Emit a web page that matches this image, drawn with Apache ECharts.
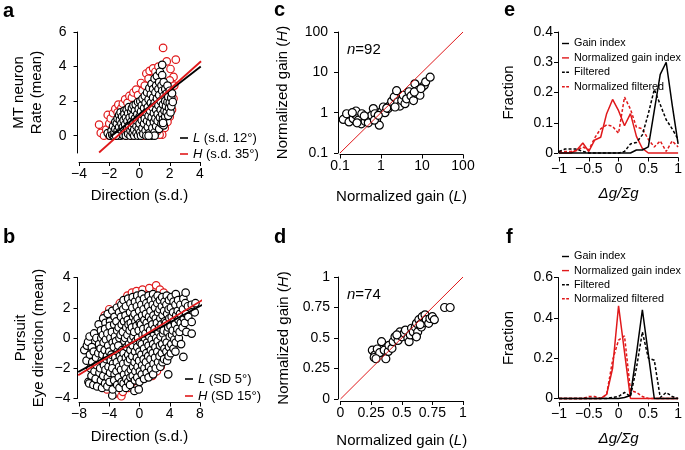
<!DOCTYPE html>
<html><head><meta charset="utf-8">
<script src="https://cdn.jsdelivr.net/npm/echarts@6/dist/echarts.min.js"></script>
<style>html,body{margin:0;padding:0;background:#fff}#c{width:685px;height:450px}</style>
</head><body><div id="c"></div>
<script>
const FONT = "'Liberation Sans', Arial, Helvetica, sans-serif";

// ---------- Panel a: MT neuron rate vs direction ----------
const aBlack = [[-2.1,0.15],[-1.95,0.0],[-1.85,0.3],[-1.8,0.05],[-1.75,0.55],[-1.7,0.0],[-1.65,0.2],[-1.6,0.8],[-1.6,0.4],[-1.5,0.0],[-1.5,0.7],[-1.45,1.0],[-1.45,0.3],[-1.4,0.1],[-1.35,0.5],[-1.35,1.2],[-1.3,0.9],[-1.25,1.35],[-1.25,0.0],[-1.2,0.3],[-1.2,0.7],[-1.15,1.1],[-1.1,0.5],[-1.1,0.05],[-1.05,0.9],[-1.0,1.45],[-1.0,1.25],[-0.95,0.2],[-0.95,0.65],[-0.9,1.05],[-0.9,0.0],[-0.85,1.5],[-0.8,0.4],[-0.8,0.85],[-0.75,1.3],[-0.75,0.1],[-0.7,0.6],[-0.7,1.65],[-0.65,1.05],[-0.6,0.0],[-0.6,0.3],[-0.55,0.8],[-0.55,1.4],[-0.5,1.6],[-0.5,0.5],[-0.45,0.15],[-0.45,1.15],[-0.4,0.7],[-0.4,1.75],[-0.35,0.0],[-0.35,0.35],[-0.3,1.0],[-0.3,1.45],[-0.25,1.8],[-0.2,0.55],[-0.2,0.15],[-0.15,1.25],[-0.15,0.85],[-0.1,1.95],[-0.1,0.0],[-0.05,0.4],[-0.05,1.55],[0.0,0.7],[0.0,1.1],[0.05,2.0],[0.05,0.2],[0.1,0.0],[0.1,1.4],[0.15,0.9],[0.15,1.75],[0.2,0.45],[0.2,2.15],[0.25,1.2],[0.25,0.1],[0.3,1.6],[0.3,0.7],[0.35,2.3],[0.35,1.0],[0.4,0.3],[0.4,1.9],[0.45,0.0],[0.45,1.35],[0.5,2.5],[0.5,0.85],[0.55,1.65],[0.55,0.5],[0.6,2.1],[0.6,1.15],[0.65,0.15],[0.65,2.75],[0.7,1.45],[0.7,0.75],[0.75,1.9],[0.75,2.4],[0.8,0.0],[0.8,1.05],[0.8,3.0],[0.85,0.45],[0.85,1.65],[0.9,2.2],[0.9,2.7],[0.95,1.3],[0.95,0.8],[1.0,3.3],[1.0,0.2],[1.0,1.9],[1.05,2.5],[1.05,1.0],[1.1,0.55],[1.1,2.9],[1.1,1.5],[1.15,3.45],[1.15,2.15],[1.2,0.85],[1.2,1.25],[1.25,2.7],[1.25,1.75],[1.3,3.1],[1.3,0.4],[1.3,2.35],[1.35,3.7],[1.35,1.05],[1.4,1.5],[1.4,2.0],[1.45,2.9],[1.45,0.7],[1.5,3.5],[1.5,4.1],[1.5,2.6],[1.5,1.25],[1.55,1.8],[1.55,0.95],[1.6,2.3],[1.6,3.1],[1.6,0.6],[1.65,1.45],[1.7,2.7],[1.7,2.0],[1.7,1.1],[1.75,1.7],[1.8,2.45],[1.8,1.35],[1.85,2.9],[1.85,1.95],[1.9,1.15],[1.9,2.25],[1.95,1.6],[2.0,2.6],[2.0,1.9],[2.05,1.35],[2.1,2.2],[2.1,1.7],[2.15,2.45],[2.2,1.95],[1.56,0.74],[1.0,0.0],[0.6,0.0],[-1.55,0.0]];
const aRed = [[-2.67,0.64],[-2.56,0.16],[-2.35,0.0],[-2.2,0.35],[-2.1,1.2],[-2.0,0.7],[-1.9,1.0],[-1.75,1.3],[-1.6,1.55],[-1.45,1.35],[-1.4,1.8],[-1.2,1.6],[-1.1,1.85],[-0.95,2.1],[-0.8,1.9],[-0.67,2.3],[-0.5,2.2],[-0.4,2.5],[-0.22,2.67],[-0.1,2.35],[0.1,3.05],[0.2,2.6],[0.35,2.9],[0.45,3.6],[0.6,3.3],[0.67,3.75],[0.9,3.9],[1.05,3.7],[1.25,4.0],[1.56,5.08],[1.8,4.3],[2.05,3.86],[2.4,4.4],[2.25,3.4],[2.0,3.2],[1.95,2.85],[2.3,2.9],[2.25,2.15],[2.15,1.5],[2.0,1.1],[1.85,0.8],[1.67,0.45],[1.5,0.06],[1.33,0.06],[1.15,0.25],[0.95,0.05],[0.78,0.06],[0.55,0.0],[0.25,0.0],[-0.1,0.05],[-0.5,0.0],[-0.9,0.0],[-1.3,0.05],[-1.7,0.0],[-2.0,0.0],[-0.2,1.6],[0.6,1.8],[1.2,2.6]];
const aFitL = [[-1.9,-0.05],[4.05,4.0]];
const aFitH = [[-2.67,-0.97],[4.07,4.31]];

// ---------- Panel b: pursuit eye direction vs direction ----------
const bBlack = [[-7.3,-0.8],[-7.0,-1.5],[-6.95,-0.5],[-6.8,-0.25],[-6.75,-2.9],[-6.6,0.1],[-6.55,-1.1],[-6.65,-3.0],[-6.5,-2.0],[-6.3,-0.6],[-6.25,-1.6],[-6.35,-2.5],[-6.0,0.3],[-6.05,-0.9],[-5.95,-2.2],[-6.1,-3.1],[-5.7,0.0],[-5.75,-1.3],[-5.65,-1.8],[-5.8,-2.7],[-5.6,-3.2],[-5.4,0.9],[-5.35,-0.4],[-5.45,-1.0],[-5.3,-2.3],[-5.1,0.5],[-5.05,0.0],[-5.15,-0.7],[-5.0,-1.5],[-5.2,-2.0],[-5.1,-2.8],[-4.95,-3.3],[-4.8,1.3],[-4.85,0.2],[-4.75,-0.3],[-4.9,-1.1],[-4.7,-1.8],[-4.8,-2.5],[-4.5,1.0],[-4.55,0.6],[-4.45,-0.1],[-4.6,-0.8],[-4.4,-1.4],[-4.5,-2.1],[-4.55,-3.0],[-4.2,1.6],[-4.25,0.3],[-4.15,-0.5],[-4.3,-1.2],[-4.1,-1.9],[-4.2,-2.6],[-4.25,-3.2],[-3.9,1.1],[-3.95,0.8],[-3.85,0.0],[-4.0,-0.9],[-3.8,-1.5],[-3.9,-2.3],[-3.95,-2.9],[-3.6,1.8],[-3.65,0.4],[-3.55,-0.3],[-3.7,-1.1],[-3.5,-1.7],[-3.6,-2.0],[-3.6,-3.8],[-3.55,-3.4],[-3.3,1.4],[-3.35,0.9],[-3.25,0.1],[-3.4,-0.6],[-3.2,-1.3],[-3.3,-2.4],[-3.35,-2.8],[-3.0,2.0],[-3.05,1.1],[-2.95,0.5],[-3.1,-0.2],[-2.9,-0.9],[-3.0,-1.6],[-3.05,-2.2],[-2.95,-3.1],[-2.7,1.7],[-2.75,0.7],[-2.65,0.0],[-2.8,-0.5],[-2.6,-1.2],[-2.7,-1.9],[-2.75,-2.6],[-2.65,-3.3],[-2.4,2.2],[-2.45,1.4],[-2.35,0.9],[-2.5,0.2],[-2.3,-0.8],[-2.4,-1.4],[-2.45,-2.1],[-2.35,-2.9],[-2.1,2.5],[-2.15,1.9],[-2.05,1.1],[-2.2,0.4],[-2.0,-0.2],[-2.1,-1.0],[-2.15,-1.7],[-2.05,-2.4],[-2.1,-3.0],[-1.8,2.1],[-1.85,1.5],[-1.75,0.7],[-1.9,0.0],[-1.7,-0.6],[-1.8,-1.3],[-1.85,-2.0],[-1.75,-2.7],[-1.8,-3.3],[-1.5,2.6],[-1.55,1.2],[-1.45,0.9],[-1.6,0.2],[-1.4,-0.4],[-1.5,-1.1],[-1.55,-1.6],[-1.45,-2.3],[-1.5,-2.9],[-1.2,2.3],[-1.25,1.7],[-1.15,1.0],[-1.3,0.5],[-1.1,-0.1],[-1.2,-0.8],[-1.25,-1.4],[-1.15,-2.1],[-1.2,-2.6],[-1.25,-3.1],[-0.9,2.7],[-0.95,2.0],[-0.85,1.4],[-1.0,0.7],[-0.8,0.1],[-0.9,-0.5],[-0.95,-1.2],[-0.85,-1.9],[-0.9,-2.5],[-0.6,2.4],[-0.65,1.6],[-0.55,1.1],[-0.7,0.4],[-0.5,-0.2],[-0.6,-0.9],[-0.65,-1.6],[-0.55,-2.2],[-0.6,-2.8],[-0.67,-3.5],[-0.3,2.8],[-0.35,2.1],[-0.25,1.3],[-0.4,0.8],[-0.2,0.0],[-0.3,-0.6],[-0.35,-1.3],[-0.25,-1.9],[-0.3,-2.6],[0.0,2.5],[-0.05,1.8],[0.05,1.0],[-0.1,0.5],[0.1,-0.3],[0.0,-0.9],[-0.05,-1.5],[0.05,-2.2],[0.0,-2.9],[-0.1,-3.4],[0.3,2.9],[0.25,2.2],[0.35,1.5],[0.2,0.9],[0.4,0.2],[0.3,-0.4],[0.25,-1.1],[0.35,-1.8],[0.3,-2.4],[0.6,2.6],[0.55,1.9],[0.65,1.2],[0.5,0.6],[0.7,0.0],[0.6,-0.7],[0.55,-1.4],[0.65,-2.0],[0.6,-2.7],[0.9,2.3],[0.85,1.6],[0.95,1.0],[0.8,0.3],[1.0,-0.3],[0.9,-1.0],[0.85,-1.6],[0.95,-2.3],[1.2,2.8],[1.15,2.1],[1.25,1.4],[1.1,0.7],[1.3,0.1],[1.2,-0.5],[1.15,-1.2],[1.25,-1.9],[1.2,-2.6],[1.5,2.5],[1.45,1.8],[1.55,1.2],[1.4,0.5],[1.6,-0.1],[1.5,-0.8],[1.45,-1.4],[1.55,-2.1],[1.8,2.9],[1.75,2.2],[1.85,1.5],[1.7,0.9],[1.9,0.3],[1.8,-0.4],[1.75,-1.0],[1.85,-1.7],[1.8,-2.4],[2.1,2.6],[2.05,2.0],[2.15,1.3],[2.0,0.6],[2.2,0.0],[2.1,-0.6],[2.05,-1.3],[2.15,-2.0],[2.4,2.8],[2.35,2.3],[2.45,1.7],[2.3,1.0],[2.5,0.4],[2.4,-0.2],[2.35,-0.9],[2.45,-1.6],[2.7,2.5],[2.65,1.9],[2.75,1.3],[2.6,0.7],[2.8,0.1],[2.7,-0.5],[2.65,-1.2],[2.75,-1.9],[3.0,2.7],[2.95,2.1],[3.05,1.5],[2.9,0.9],[3.1,0.3],[3.0,-0.4],[2.95,-1.0],[3.05,-1.6],[3.3,2.4],[3.25,1.8],[3.35,1.1],[3.2,0.5],[3.4,-0.1],[3.3,-0.7],[3.25,-1.4],[3.6,2.8],[3.55,2.2],[3.65,1.6],[3.5,1.0],[3.7,0.4],[3.6,-0.3],[3.55,-0.9],[3.65,-1.5],[3.8,-2.4],[3.9,2.5],[3.85,1.9],[3.95,1.3],[3.8,0.7],[4.0,0.1],[3.9,-0.6],[3.85,-1.2],[4.2,2.7],[4.15,2.0],[4.25,1.4],[4.1,0.8],[4.3,0.2],[4.2,-0.4],[4.15,-1.0],[4.5,2.4],[4.45,1.7],[4.55,1.1],[4.4,0.5],[4.6,-0.1],[4.5,-0.7],[4.8,2.9],[4.75,2.2],[4.85,1.5],[4.7,0.9],[4.9,0.3],[4.8,-0.3],[4.75,-0.9],[5.1,2.5],[5.05,1.8],[5.15,1.2],[5.0,0.6],[5.2,0.0],[5.4,2.2],[5.35,1.6],[5.45,1.0],[5.3,0.4],[5.5,-0.4],[5.8,2.6],[5.75,1.9],[5.85,1.3],[5.7,0.7],[5.8,-1.25],[6.1,3.0],[6.05,2.3],[6.15,1.6],[6.0,1.0],[6.2,0.4],[6.4,2.1],[6.45,1.4],[6.9,2.2],[6.9,1.06],[6.9,0.29],[7.4,2.3],[7.3,1.7]];
const bRed = [[-4.6,1.5],[-4.0,1.9],[-3.1,1.87],[-2.6,2.3],[-2.0,2.4],[-1.6,2.8],[-1.0,3.0],[-0.4,3.1],[0.4,3.2],[1.3,3.3],[2.2,3.48],[2.7,3.2],[3.2,3.0],[-4.3,-3.4],[-3.3,-3.7],[-2.9,-3.6],[-2.6,-3.3],[-2.4,-3.85],[-2.2,-3.56],[-1.5,-3.3],[-0.9,-2.9],[-0.2,-2.7],[0.5,-2.6],[1.1,-2.5],[1.7,-2.5],[2.3,-2.2],[2.8,-1.9]];
const bFitL = [[-8.1,-2.24],[8.6,2.27]];
const bFitH = [[-8.1,-2.46],[8.6,2.6]];

// ---------- Panel c: normalized gain, log axes ----------
const cPts = [[0.12,0.68],[0.145,0.94],[0.166,0.59],[0.21,0.71],[0.24,0.89],[0.245,1.1],[0.28,0.65],[0.34,0.94],[0.33,0.53],[0.41,0.61],[0.45,0.78],[0.49,0.56],[0.59,0.86],[0.65,1.26],[0.71,0.94],[0.78,0.68],[0.91,0.49],[1.04,1.08],[1.14,1.38],[1.25,1.0],[1.5,1.26],[1.66,1.52],[1.82,1.91],[2.1,2.45],[2.4,3.5],[2.55,1.84],[2.9,1.46],[3.2,2.0],[3.5,2.7],[3.85,1.67],[4.2,2.2],[4.8,3.3],[5.4,2.6],[6.2,2.0],[6.7,5.2],[7.4,3.0],[8.1,3.6],[8.9,2.7],[10.1,4.3],[11.4,4.8],[12.3,5.8],[15.8,7.6],[0.39,0.83],[0.26,0.56],[0.2,1.0],[0.69,0.65],[0.86,0.86],[1.38,1.3],[2.2,1.38],[6.5,3.25],[9.4,3.95]];
const cDiag = [[0.1,0.1],[100,100]];

// ---------- Panel d: normalized gain, linear axes ----------
const dPts = [[0.26,0.40],[0.28,0.36],[0.275,0.34],[0.30,0.41],[0.32,0.38],[0.335,0.47],[0.357,0.40],[0.37,0.33],[0.39,0.39],[0.395,0.44],[0.42,0.415],[0.43,0.47],[0.445,0.51],[0.47,0.48],[0.485,0.55],[0.50,0.51],[0.52,0.54],[0.53,0.565],[0.55,0.50],[0.56,0.47],[0.57,0.525],[0.58,0.58],[0.594,0.55],[0.61,0.59],[0.62,0.62],[0.63,0.55],[0.64,0.65],[0.66,0.59],[0.667,0.675],[0.68,0.625],[0.69,0.69],[0.70,0.65],[0.72,0.62],[0.73,0.66],[0.75,0.675],[0.766,0.65],[0.85,0.75],[0.895,0.75],[0.29,0.33],[0.46,0.525],[0.62,0.51],[0.65,0.61]];
const dDiag = [[0,0],[1,1]];

// ---------- Panels e, f: histograms of gain index ----------
const bins = [-1,-0.9,-0.8,-0.7,-0.6,-0.5,-0.4,-0.3,-0.2,-0.1,0,0.1,0.2,0.3,0.4,0.5,0.6,0.7,0.8,0.9,1];
const eGain     = [0,0,0,0,0,0,0,0,0,0,0,0,0,0.01,0.01,0.02,0.14,0.26,0.30,0.16,0.03];
const eNormGain = [0,0,0,0.01,0.033,0.005,0.043,0.052,0.13,0.177,0.14,0.09,0.13,0.055,0.015,0,0,0,0,0,0];
const eFilt     = [0.005,0.013,0.013,0.013,0.005,0,0,0,0,0,0,0.005,0.03,0.035,0.06,0.13,0.21,0.16,0.11,0.08,0.045];
const eNormFilt = [0.005,0.005,0.005,0.008,0.02,0.01,0.05,0.08,0.093,0.088,0.065,0.185,0.145,0.085,0.08,0.045,0.02,0.04,0.005,0.04,0.02];
const fGain     = [0,0,0,0,0,0,0,0,0,0,0,0.005,0.015,0.22,0.44,0.22,0,0,0,0,0];
const fNormGain = [0,0,0,0,0,0,0,0,0.02,0.15,0.46,0.23,0,0,0,0,0,0,0,0,0];
const fFilt     = [0,0,0,0,0,0,0,0,0,0.005,0.01,0.03,0.01,0.15,0.33,0.2,0.19,0.005,0.03,0.01,0];
const fNormFilt = [0,0,0,0,0,0.01,0.01,0,0.02,0.19,0.29,0.31,0.04,0.03,0.01,0,0,0,0,0,0];

const LEG = {
  La: '{i|L} (s.d. 12°)', Ha: '{i|H} (s.d. 35°)',
  Lb: '{i|L} (SD 5°)', Hb: '{i|H} (SD 15°)'
};
const pair = (xs, ys) => xs.map((x, i) => [x, ys[i]]);
const minus = v => String(v).replace('-', '\u2212');

function axis(gi, extra) {
  const base = {
    gridIndex: gi, type: 'value',
    axisLine: { show: true, onZero: false, lineStyle: { color: '#000', width: 1 } },
    axisTick: { show: true, length: 4, lineStyle: { color: '#000', width: 1 } },
    axisLabel: { color: '#000', fontSize: 14, fontFamily: FONT, margin: 5, formatter: minus, showMinLabel: true, showMaxLabel: true },
    splitLine: { show: false },
    nameLocation: 'middle',
    nameTextStyle: { fontSize: 15, fontFamily: FONT, color: '#000', rich: { i: { fontStyle: 'italic', fontSize: 15, fontFamily: FONT, color: '#000' } } }
  };
  const out = Object.assign({}, base, extra);
  if (extra.axisLabel) out.axisLabel = Object.assign({}, base.axisLabel, extra.axisLabel);
  if (extra.axisTick) out.axisTick = Object.assign({}, base.axisTick, extra.axisTick);
  if (extra.nameTextStyle) out.nameTextStyle = Object.assign({}, base.nameTextStyle, extra.nameTextStyle);
  return out;
}
const logFmt = v => (v < 1 ? v.toFixed(1) : String(Math.round(v)));

function scatter(name, data, gi, color, size) {
  return { name, type: 'scatter', xAxisIndex: gi, yAxisIndex: gi, data, symbol: 'circle', symbolSize: size,
    itemStyle: { color: '#fff', borderColor: color, borderWidth: 1.2, opacity: 1 }, silent: true, animation: false };
}
function line(name, data, gi, color, width, dash) {
  return { name, type: 'line', xAxisIndex: gi, yAxisIndex: gi, data, symbol: 'none', showSymbol: false, clip: false,
    lineStyle: { color, width, type: dash ? [3, 2] : 'solid' }, itemStyle: { color }, silent: true, animation: false };
}
const letter = (t, left, top) => ({ text: t, left, top, padding: 0,
  textStyle: { fontSize: 20, fontWeight: 'bold', fontFamily: FONT, color: '#000' } });
const nLabel = (t, left, top) => ({ text: t, left, top, padding: 0,
  textStyle: { fontSize: 15, fontWeight: 'normal', fontFamily: FONT, color: '#000',
    rich: { i: { fontStyle: 'italic', fontSize: 15, fontFamily: FONT, color: '#000' } } } });
const legendTS = (fs, lh) => ({ fontSize: fs, fontFamily: FONT, color: '#000', lineHeight: lh,
  rich: { i: { fontStyle: 'italic', fontSize: fs, fontFamily: FONT, color: '#000', lineHeight: lh } } });

const SOLID = 'path://M0,0h10v2h-10z';
const DASHED = 'path://M0,0h4v2h-4z M6,0h4v2h-4z';
const histLegendData = [
  { name: 'Gain index', icon: SOLID },
  { name: 'Normalized gain index', icon: SOLID },
  { name: 'Filtered', icon: DASHED },
  { name: 'Normalized filtered', icon: DASHED }
];

const option = {
  backgroundColor: '#fff',
  animation: false,
  title: [
    letter('a', 3, 1), letter('b', 3, 227), letter('c', 274, 0), letter('d', 274, 227), letter('e', 504, 0), letter('f', 506, 227),
    nLabel('{i|n}=92', 347, 42), nLabel('{i|n}=74', 347, 287)
  ],
  grid: [
    { left: 79, top: 32, width: 121, height: 121 },
    { left: 79, top: 277.5, width: 121, height: 121 },
    { left: 340, top: 32, width: 123, height: 121 },
    { left: 340.5, top: 277, width: 122.5, height: 122 },
    { left: 559, top: 32, width: 121, height: 121 },
    { left: 559, top: 277.5, width: 121, height: 121 }
  ],
  xAxis: [
    axis(0, { min: -4, max: 4, interval: 2, offset: 9, name: 'Direction (s.d.)', nameGap: 26 }),
    axis(1, { min: -8, max: 8, interval: 4, offset: 4, name: 'Direction (s.d.)', nameGap: 27 }),
    axis(2, { type: 'log', logBase: 10, min: 0.1, max: 100, offset: 1.5, name: 'Normalized gain ({i|L})', nameGap: 35, axisLabel: { formatter: logFmt } }),
    axis(3, { min: 0, max: 1, interval: 0.25, offset: 2, name: 'Normalized gain ({i|L})', nameGap: 32 }),
    axis(4, { min: -1, max: 1, interval: 0.5, offset: 4.5, name: 'Δg/Σg', nameGap: 29, nameTextStyle: { fontStyle: 'italic' } }),
    axis(5, { min: -1, max: 1, interval: 0.5, offset: 4, name: 'Δg/Σg', nameGap: 29, nameTextStyle: { fontStyle: 'italic' } })
  ],
  yAxis: [
    axis(0, { min: -1, max: 6, offset: 1.5, axisLabel: { customValues: [0, 2, 4, 6], margin: 11 }, axisTick: { customValues: [0, 2, 4, 6] },
      name: 'MT neuron\nRate (mean)', nameGap: 32, nameTextStyle: { lineHeight: 18 } }),
    axis(1, { min: -4, max: 4, interval: 2, offset: 1.5, axisLabel: { margin: 7 },
      name: 'Pursuit\nEye direction (mean)', nameGap: 30, nameTextStyle: { lineHeight: 18 } }),
    axis(2, { type: 'log', logBase: 10, min: 0.1, max: 100, offset: 2, axisLabel: { formatter: logFmt, margin: 10 },
      name: 'Normalized gain ({i|H})', nameGap: 48 }),
    axis(3, { min: 0, max: 1, interval: 0.25, offset: 2.5, axisLabel: { margin: 8 },
      name: 'Normalized gain ({i|H})', nameGap: 47 }),
    axis(4, { min: 0, max: 0.4, interval: 0.1, offset: 1, axisLabel: { margin: 5 }, name: 'Fraction', nameGap: 42 }),
    axis(5, { min: 0, max: 0.6, interval: 0.2, offset: 1, axisLabel: { margin: 5 }, name: 'Fraction', nameGap: 42 })
  ],
  legend: [
    { data: [{ name: 'La', icon: SOLID }, { name: 'Ha', icon: SOLID }], orient: 'vertical', left: 175, top: 126, itemWidth: 8, itemHeight: 2, itemGap: 2,
      selectedMode: false, formatter: n => LEG[n], textStyle: legendTS(13, 14), itemStyle: { borderWidth: 0 } },
    { data: [{ name: 'Lb', icon: SOLID }, { name: 'Hb', icon: SOLID }], orient: 'vertical', left: 180, top: 367, itemWidth: 8, itemHeight: 2, itemGap: 3,
      selectedMode: false, formatter: n => LEG[n], textStyle: legendTS(13, 14), itemStyle: { borderWidth: 0 } },
    { data: histLegendData, orient: 'vertical', left: 557, top: 32, itemWidth: 7, itemHeight: 2, itemGap: 1.4,
      selectedMode: false, textStyle: legendTS(10.8, 13), itemStyle: { borderWidth: 0 } },
    { data: histLegendData, orient: 'vertical', left: 557, top: 245, itemWidth: 7, itemHeight: 2, itemGap: 1.1,
      selectedMode: false, textStyle: legendTS(10.8, 13), itemStyle: { borderWidth: 0 } }
  ],
  series: [
    scatter('aRed', aRed, 0, '#e0191b', 7.5),
    scatter('aBlack', aBlack, 0, '#000', 7.5),
    line('La', aFitL, 0, '#000', 1.8),
    line('Ha', aFitH, 0, '#e0191b', 1.8),

    scatter('bRed', bRed, 1, '#e0191b', 7.5),
    scatter('bBlack', bBlack, 1, '#000', 7.5),
    line('Lb', bFitL, 1, '#000', 1.8),
    line('Hb', bFitH, 1, '#e0191b', 1.8),

    scatter('cPts', cPts, 2, '#000', 8),
    line('cDiag', cDiag, 2, '#e0191b', 1),

    scatter('dPts', dPts, 3, '#000', 8),
    line('dDiag', dDiag, 3, '#e0191b', 1),

    line('Normalized gain index', pair(bins, eNormGain), 4, '#e0191b', 1.5, false),
    line('Normalized filtered', pair(bins, eNormFilt), 4, '#e0191b', 1.5, true),
    line('Gain index', pair(bins, eGain), 4, '#000', 1.5, false),
    line('Filtered', pair(bins, eFilt), 4, '#000', 1.5, true),

    line('Normalized gain index', pair(bins, fNormGain), 5, '#e0191b', 1.5, false),
    line('Normalized filtered', pair(bins, fNormFilt), 5, '#e0191b', 1.5, true),
    line('Gain index', pair(bins, fGain), 5, '#000', 1.5, false),
    line('Filtered', pair(bins, fFilt), 5, '#000', 1.5, true)
  ]
};

const chart = echarts.init(document.getElementById('c'), null, { renderer: 'canvas' });
chart.setOption(option);
</script></body></html>
